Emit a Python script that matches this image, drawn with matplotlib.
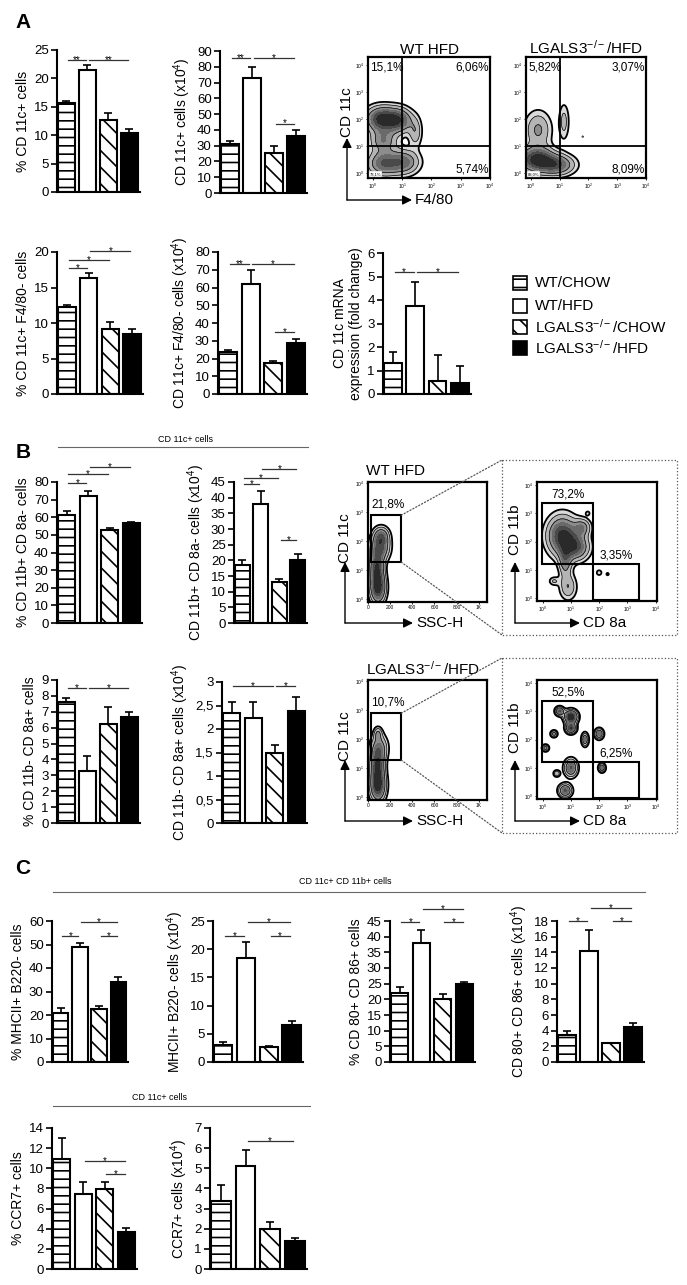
import numpy as np
import matplotlib
matplotlib.use("Agg")
import matplotlib.pyplot as plt
from matplotlib.patches import Rectangle, ConnectionPatch

plt.rcParams['font.family'] = ['Liberation Sans', 'DejaVu Sans']
plt.rcParams['mathtext.fontset'] = 'custom'
plt.rcParams['mathtext.rm'] = 'Liberation Sans'
plt.rcParams['mathtext.it'] = 'Liberation Sans:italic'
plt.rcParams['mathtext.bf'] = 'Liberation Sans:bold'
plt.rcParams['hatch.linewidth'] = 1.2

W, H = 687, 1285
KO = 'LGALS3$^{\\mathregular{-/-}}$'

# groups / styles
groups = ['WT/CHOW', 'WT/HFD', KO + '/CHOW', KO + '/HFD']
hatches = ['--', '', '\\\\', '']
faces = ['white', 'white', 'white', 'black']

# ---- panel A bar data ----
a1_vals = [15.7, 21.4, 12.7, 10.4]
a1_err = [0.4, 0.9, 1.2, 0.7]
a1_sig = [(0, 1, 23.2, '**'), (1, 3, 23.2, '**')]

a2_vals = [31, 73, 25.5, 36]
a2_err = [2, 7, 4, 4]
a2_sig = [(0, 1, 85.5, '**'), (1, 3, 85.5, '*'), (2, 3, 44, '*')]

a3_vals = [12.2, 16.3, 9.2, 8.4]
a3_err = [0.4, 0.8, 1.0, 0.7]
a3_sig = [(0, 1, 17.7, '*'), (0, 2, 18.9, '*'), (1, 3, 20.1, '*')]

a4_vals = [23.5, 62, 17.5, 28.5]
a4_err = [1.5, 8, 1, 2.5]
a4_sig = [(0, 1, 73, '**'), (1, 3, 73, '*'), (2, 3, 35, '*')]

a5_vals = [1.33, 3.75, 0.55, 0.48]
a5_err = [0.45, 1.0, 1.1, 0.72]
a5_sig = [(0, 1, 5.2, '*'), (1, 3, 5.2, '*')]

# ---- panel B bar data ----
b1_vals = [61.5, 72, 52.5, 56.5]
b1_err = [2, 3, 1.5, 1]
b1_sig = [(0, 1, 79.5, '*'), (0, 2, 84.5, '*'), (1, 3, 88.5, '*')]

b2_vals = [18.5, 38, 13, 20]
b2_err = [1.5, 4, 1, 2]
b2_sig = [(0, 1, 44.4, '*'), (0, 2, 46.3, '*'), (1, 3, 49.1, '*'), (2, 3, 26.5, '*')]

b3_vals = [7.6, 3.3, 6.2, 6.7]
b3_err = [0.25, 0.9, 1.1, 0.3]
b3_sig = [(0, 1, 8.5, '*'), (1, 3, 8.5, '*')]

b4_vals = [2.35, 2.23, 1.48, 2.38]
b4_err = [0.22, 0.35, 0.18, 0.3]
b4_sig = [(0, 2, 2.91, '*'), (2, 3, 2.91, '*')]
b4_ticks = ['0', '0,5', '1', '1,5', '2', '2,5', '3']

# ---- panel C bar data ----
c1_vals = [21, 49, 22.5, 34]
c1_err = [2, 1.5, 1.2, 2]
c1_sig = [(0, 1, 53.6, '*'), (1, 3, 59.6, '*'), (2, 3, 53.6, '*')]

c2_vals = [3, 18.5, 2.6, 6.5]
c2_err = [0.5, 2.7, 0.2, 0.8]
c2_sig = [(0, 1, 22.3, '*'), (1, 3, 24.8, '*'), (2, 3, 22.3, '*')]

c3_vals = [22, 38, 20, 25]
c3_err = [2, 4, 1.8, 0.5]
c3_sig = [(0, 1, 44.7, '*'), (1, 3, 48.8, '*'), (2, 3, 44.7, '*')]

c4_vals = [3.4, 14.2, 2.4, 4.5]
c4_err = [0.6, 2.6, 0.05, 0.5]
c4_sig = [(0, 1, 18, '*'), (1, 3, 19.6, '*'), (2, 3, 18, '*')]

c5_vals = [10.9, 7.4, 7.9, 3.7]
c5_err = [2.1, 1.2, 0.7, 0.4]
c5_sig = [(1, 3, 10.7, '*'), (2, 3, 9.4, '*')]

c6_vals = [3.4, 5.1, 2.0, 1.4]
c6_err = [0.75, 0.8, 0.32, 0.15]
c6_sig = [(1, 3, 6.35, '*')]

# ---- flow cytometry density blobs: (x, y, sx, sy, weight) ----
flowA_wt = [(0.3, 2.0, 0.35, 0.3, 1.0), (0.9, 1.95, 0.3, 0.3, 0.75), (0.35, 1.2, 0.3, 0.3, 0.55),
            (0.35, 0.35, 0.35, 0.3, 0.7), (1.05, 0.4, 0.35, 0.3, 0.65), (1.45, 1.5, 0.15, 0.35, 0.35)]
flowA_ko = [(0.2, 0.5, 0.4, 0.3, 1.0), (0.9, 0.3, 0.4, 0.25, 0.75), (0.25, 1.6, 0.3, 0.45, 0.45),
            (1.15, 1.9, 0.12, 0.45, 0.3), (1.8, 1.35, 0.08, 0.06, 0.12)]
quadA_wt = ['15,1%', '6,06%', '5,74%', '73,1%']
quadA_ko = ['5,82%', '3,07%', '8,09%', '83,0%']

flowB1_wt = [(90, 0.4, 45, 0.35, 1.0), (80, 1.1, 40, 0.35, 0.8), (110, 1.8, 55, 0.3, 0.75), (120, 2.2, 45, 0.2, 0.5)]
flowB1_ko = [(90, 0.4, 45, 0.35, 1.0), (85, 1.1, 40, 0.35, 0.8), (100, 1.7, 50, 0.3, 0.55), (90, 2.2, 25, 0.15, 0.35)]
flowB2_wt = [(0.7, 2.2, 0.35, 0.45, 1.0), (1.2, 1.8, 0.3, 0.3, 0.7), (0.8, 1.3, 0.15, 0.35, 0.5),
             (0.9, 0.4, 0.2, 0.3, 0.4), (0.4, 0.6, 0.12, 0.1, 0.25), (1.4, 2.5, 0.2, 0.2, 0.5),
             (2.0, 0.9, 0.08, 0.08, 0.2), (2.3, 0.85, 0.06, 0.06, 0.15), (1.6, 3.0, 0.07, 0.07, 0.15)]
flowB2_ko = [(0.6, 3.0, 0.1, 0.1, 0.6), (1.0, 2.8, 0.15, 0.15, 0.9), (1.0, 2.4, 0.12, 0.12, 0.7),
             (0.4, 2.2, 0.08, 0.08, 0.4), (1.5, 2.0, 0.08, 0.15, 0.5), (2.0, 2.2, 0.1, 0.12, 0.55),
             (0.1, 1.7, 0.08, 0.08, 0.4), (1.0, 1.0, 0.15, 0.2, 0.6), (0.8, 0.2, 0.15, 0.15, 0.6),
             (2.1, 1.0, 0.08, 0.1, 0.5), (0.5, 0.8, 0.08, 0.08, 0.3)]
gateB1_wt, gateB1_ko = '21,8%', '10,7%'
gateB2_wt = ['73,2%', '3,35%']
gateB2_ko = ['52,5%', '6,25%']

fig = plt.figure(figsize=(W / 100, H / 100), dpi=100)
ov = fig.add_axes([0, 0, 1, 1], zorder=-1)
ov.set_xlim(0, W)
ov.set_ylim(H, 0)
ov.axis('off')


def ax_at(l, t, r, b):
    ax = fig.add_axes([l / W, 1 - b / H, (r - l) / W, (b - t) / H])
    ax.patch.set_alpha(0)
    return ax


def bar_panel(box, vals, errs, ymax, step, ylabel, sig, ticklabels=None):
    ax = ax_at(*box)
    x = np.arange(4)
    for i in range(4):
        ax.bar(x[i], vals[i], width=0.8, color=faces[i], edgecolor='black',
               hatch=hatches[i], linewidth=1.5, zorder=2)
    ax.errorbar(x, vals, yerr=[np.zeros(4), errs], fmt='none', ecolor='black',
                elinewidth=1.2, capsize=3, capthick=1.2, zorder=3)
    ax.set_xlim(-0.45, 3.5)
    ax.set_ylim(0, ymax)
    ticks = np.arange(0, ymax + step / 2, step)
    ax.set_yticks(ticks)
    if ticklabels is None:
        ticklabels = ['%g' % t for t in ticks]
    ax.set_yticklabels(ticklabels, fontsize=9.5)
    ax.set_xticks([])
    for s in ['top', 'right']:
        ax.spines[s].set_visible(False)
    for s in ['left', 'bottom']:
        ax.spines[s].set_linewidth(1.5)
    ax.tick_params(axis='y', length=4, width=1.2, pad=2)
    for i, j, y, s in sig:
        ax.plot([i + 0.08, j - 0.08], [y, y], color='#333333', lw=0.9, clip_on=False)
        ax.text((i + j) / 2, y, s, ha='center', va='center', fontsize=7, clip_on=False)
    ax.set_ylabel(ylabel, fontsize=10, labelpad=3)
    return ax


def density(xs, ys, blobs):
    xg, yg = np.meshgrid(xs, ys)
    z = np.zeros_like(xg)
    for cx, cy, sx, sy, w in blobs:
        z += w * np.exp(-((xg - cx) ** 2 / (2 * sx ** 2) + (yg - cy) ** 2 / (2 * sy ** 2)))
    return xg, yg, z


def flow_axes(box, xlim, ylim, blobs, xlog=True):
    ax = ax_at(*box)
    ax.set_xlim(*xlim)
    ax.set_ylim(*ylim)
    xs = np.linspace(xlim[0], xlim[1], 200)
    ys = np.linspace(ylim[0], ylim[1], 200)
    xg, yg, z = density(xs, ys, blobs)
    lev = np.array([0.1, 0.2, 0.35, 0.5, 0.65, 0.8, 1.01]) * z.max()
    cols = ['#d9d9d9', '#b4b4b4', '#8c8c8c', '#6a6a6a', '#4a4a4a', '#2a2a2a']
    ax.contourf(xg, yg, z, levels=lev, colors=cols)
    ax.contour(xg, yg, z, levels=lev[:3], colors='black', linewidths=[1.3, 0.5, 0.5])
    logt = [0, 1, 2, 3, 4]
    logl = ['$10^{%d}$' % t for t in logt]
    ax.set_yticks(logt)
    ax.set_yticklabels(logl, fontsize=3.5)
    if xlog:
        ax.set_xticks(logt)
        ax.set_xticklabels(logl, fontsize=3.5)
    else:
        ax.set_xticks([0, 200, 400, 600, 800, 1000])
        ax.set_xticklabels(['0', '200', '400', '600', '800', '1K'], fontsize=3.5)
    ax.tick_params(length=1.5, width=0.6, pad=1)
    for s in ax.spines.values():
        s.set_linewidth(1.6)
    return ax


def arrows(x0, y0, x1, y1, ylab, xlab, ylab_y):
    ap = dict(arrowstyle='-|>', lw=1.0, color='black', mutation_scale=14, shrinkA=0, shrinkB=0)
    ov.annotate('', xy=(x0, y1), xytext=(x0, y0), arrowprops=ap)
    ov.annotate('', xy=(x1, y0), xytext=(x0, y0), arrowprops=ap)
    ov.text(x0, ylab_y, ylab, rotation=90, ha='center', va='center', fontsize=11)
    ov.text(x1 + 3, y0, xlab, ha='left', va='center', fontsize=11)


# ---------------- Panel A ----------------
ov.text(23, 22, 'A', fontsize=15, fontweight='bold', ha='center', va='center')
bar_panel((57, 50, 140, 192), a1_vals, a1_err, 25, 5, '% CD 11c+ cells', a1_sig)
bar_panel((220, 51, 307, 193), a2_vals, a2_err, 90, 10, 'CD 11c+ cells (x10$^4$)', a2_sig)
bar_panel((57, 252, 143, 394), a3_vals, a3_err, 20, 5, '% CD 11c+ F4/80- cells', a3_sig)
bar_panel((218, 252, 307, 394), a4_vals, a4_err, 80, 10, 'CD 11c+ F4/80- cells (x10$^4$)', a4_sig)
bar_panel((383, 253, 471, 394), a5_vals, a5_err, 6, 1,
          'CD 11c mRNA\nexpression (fold change)', a5_sig)

for (l, r), blobs, quad, title in [((368, 490), flowA_wt, quadA_wt, 'WT HFD'),
                                   ((526, 646), flowA_ko, quadA_ko, KO + '/HFD')]:
    ax = flow_axes((l, 57, r, 178), (-0.17, 4.0), (-0.19, 4.3), blobs)
    ax.axvline(1.0, color='black', lw=1.3)
    ax.axhline(1.0, color='black', lw=1.3)
    ax.text(-0.1, 4.15, quad[0], fontsize=8.5, ha='left', va='top')
    ax.text(3.95, 4.15, quad[1], fontsize=8.5, ha='right', va='top')
    ax.text(3.95, -0.1, quad[2], fontsize=8.5, ha='right', va='bottom')
    ax.text(-0.1, -0.12, quad[3], fontsize=3, ha='left', va='bottom',
            bbox=dict(facecolor='white', edgecolor='#888888', lw=0.3, pad=0.5))
    ax.set_title(title, fontsize=11, pad=1)
arrows(347, 200, 412, 138, 'CD 11c', 'F4/80', 112)

# legend
for k, g in enumerate(groups):
    yc = [283, 306, 327, 348][k]
    ov.add_patch(Rectangle((513, yc - 7), 14, 14, facecolor=faces[k], edgecolor='black',
                           hatch=hatches[k], lw=1.2))
    ov.text(535, yc, g, va='center', ha='left', fontsize=11)

# ---------------- Panel B ----------------
ov.text(23, 452, 'B', fontsize=15, fontweight='bold', ha='center', va='center')
ov.text(185, 439, 'CD 11c+ cells', fontsize=6.5, ha='center', va='center')
ov.plot([58, 308], [447, 447], color='#666666', lw=0.8)
bar_panel((57, 482, 142, 623), b1_vals, b1_err, 80, 10, '% CD 11b+ CD 8a- cells', b1_sig)
bar_panel((234, 482, 307, 623), b2_vals, b2_err, 45, 5, 'CD 11b+ CD 8a- cells (x10$^4$)', b2_sig)
bar_panel((57, 680, 140, 823), b3_vals, b3_err, 9, 1, '% CD 11b- CD 8a+ cells', b3_sig)
bar_panel((222, 682, 307, 823), b4_vals, b4_err, 3, 0.5, 'CD 11b- CD 8a+ cells (x10$^4$)', b4_sig,
          ticklabels=b4_ticks)

for dy, b1, b2, g1, g2, title in [(0, flowB1_wt, flowB2_wt, gateB1_wt, gateB2_wt, 'WT HFD'),
                                  (198, flowB1_ko, flowB2_ko, gateB1_ko, gateB2_ko, KO + '/HFD')]:
    ax1 = flow_axes((368, 482 + dy, 487, 602 + dy), (0, 1075), (-0.1, 4.05), b1, xlog=False)
    ax1.add_patch(Rectangle((27, 1.28), 273, 1.62, fill=False, edgecolor='black', lw=1.5))
    ax1.text(180, 3.05, g1, fontsize=8.5, ha='center', va='bottom')
    ov.text(366, 471 + dy, title, fontsize=11, ha='left', va='center')
    ax2 = flow_axes((537, 482 + dy, 657, 601 + dy), (-0.2, 4.05), (-0.1, 4.1), b2)
    ax2.add_patch(Rectangle((-0.03, 1.2), 1.8, 2.16, fill=False, edgecolor='black', lw=1.5))
    ax2.add_patch(Rectangle((1.77, -0.07), 1.63, 1.27, fill=False, edgecolor='black', lw=1.5))
    ax2.text(0.9, 3.45, g2[0], fontsize=8.5, ha='center', va='bottom')
    ax2.text(2.6, 1.3, g2[1], fontsize=8.5, ha='center', va='bottom')
    ov.add_patch(Rectangle((502, 460 + dy), 175, 175, fill=False, edgecolor='#555555',
                           lw=0.9, linestyle=':'))
    for gy, oy in [(2.9, 460 + dy), (1.28, 635 + dy)]:
        cp = ConnectionPatch(xyA=(300, gy), coordsA=ax1.transData, xyB=(502, oy),
                             coordsB=ov.transData, linestyle=':', lw=0.9, color='#555555')
        fig.add_artist(cp)
    arrows(345, 623 + dy, 413, 562 + dy, 'CD 11c', 'SSC-H', 538 + dy)
    arrows(515, 623 + dy, 580, 562 + dy, 'CD 11b', 'CD 8a', 530 + dy)

# ---------------- Panel C ----------------
ov.text(23, 868, 'C', fontsize=15, fontweight='bold', ha='center', va='center')
ov.text(345, 882, 'CD 11c+ CD 11b+ cells', fontsize=6.5, ha='center', va='center')
ov.plot([53, 645], [892, 892], color='#666666', lw=0.8)
bar_panel((52, 921, 128, 1062), c1_vals, c1_err, 60, 10, '% MHCII+ B220- cells', c1_sig)
bar_panel((213, 921, 303, 1062), c2_vals, c2_err, 25, 5, 'MHCII+ B220- cells (x10$^4$)', c2_sig)
bar_panel((390, 921, 475, 1062), c3_vals, c3_err, 45, 5, '% CD 80+ CD 86+ cells', c3_sig)
bar_panel((557, 921, 644, 1062), c4_vals, c4_err, 18, 2, 'CD 80+ CD 86+ cells (x10$^4$)', c4_sig)

ov.text(160, 1098, 'CD 11c+ cells', fontsize=6.5, ha='center', va='center')
ov.plot([53, 310], [1106, 1106], color='#666666', lw=0.8)
bar_panel((52, 1128, 137, 1269), c5_vals, c5_err, 14, 2, '% CCR7+ cells', c5_sig)
bar_panel((210, 1128, 307, 1269), c6_vals, c6_err, 7, 1, 'CCR7+ cells (x10$^4$)', c6_sig)

fig.savefig('out.png', dpi=100)
